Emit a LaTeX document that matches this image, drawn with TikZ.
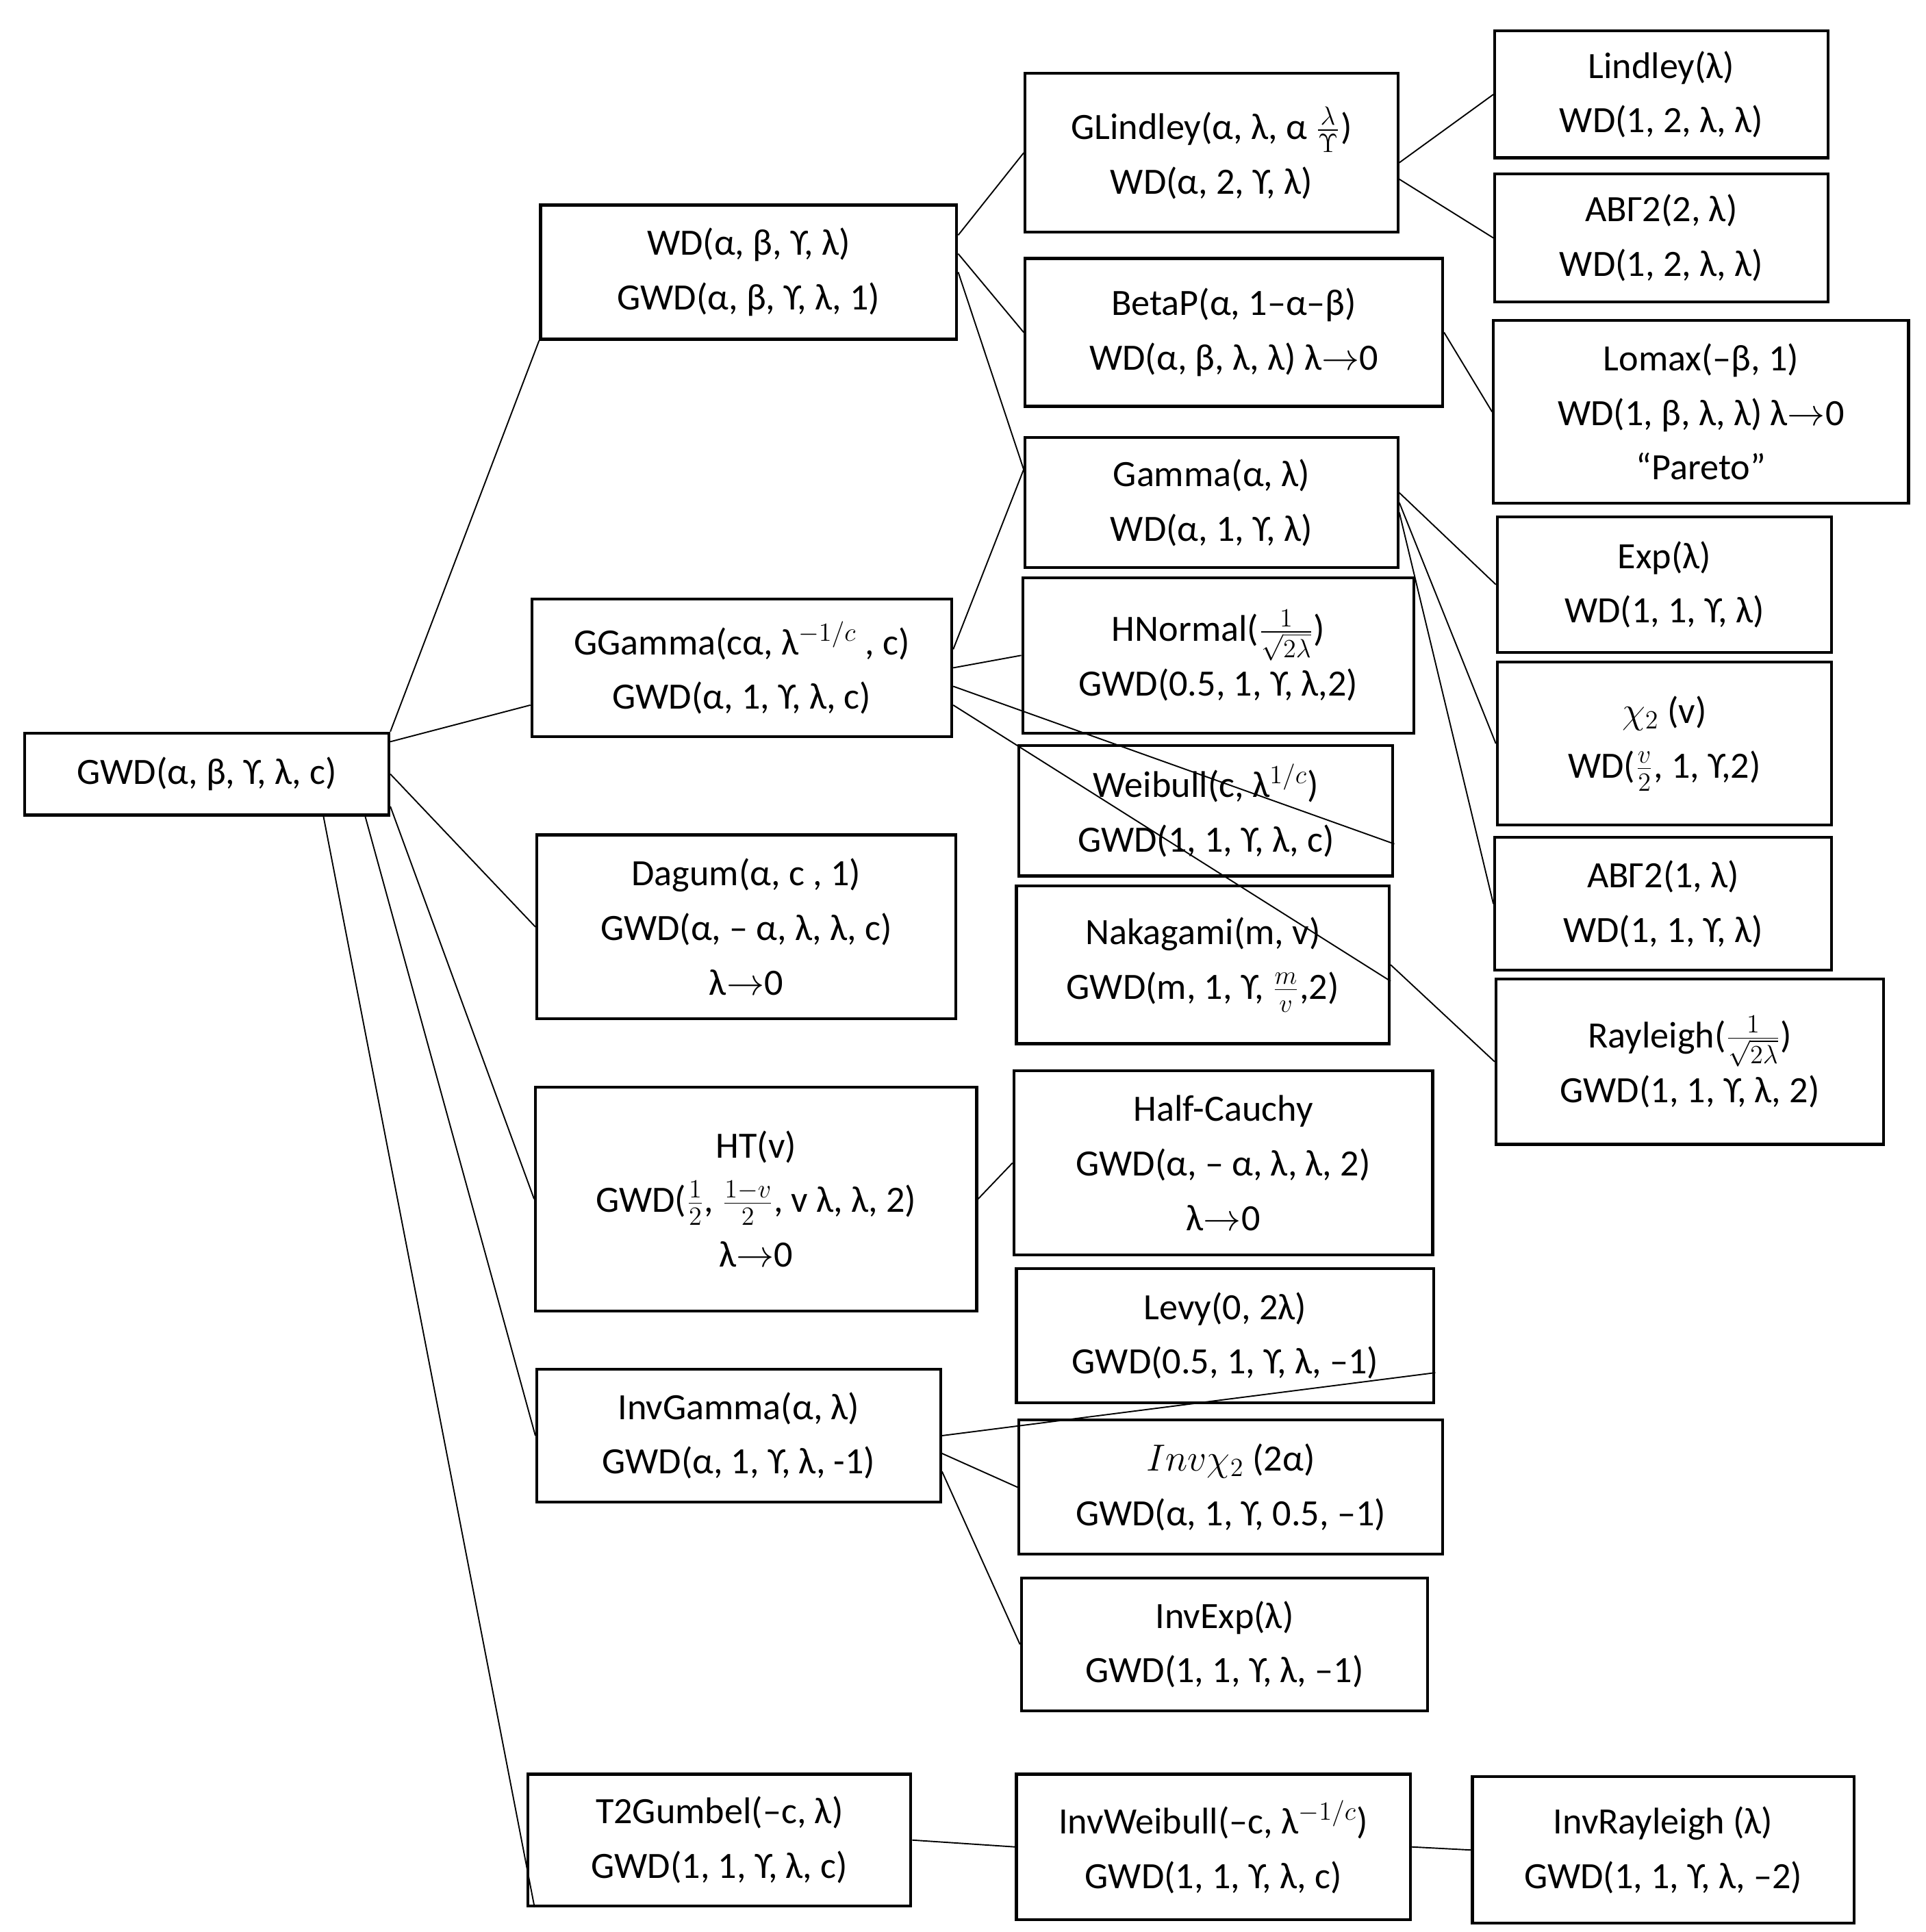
\documentclass[tikz,border=0pt]{standalone}
\usepackage{fontspec}
\setmainfont{Carlito}
\begin{document}
\begin{tikzpicture}[x=0.02cm,y=-0.02cm,
  every node/.style={font=\fontsize{17}{25}\selectfont},
  bx/.style={draw,line width=1.3pt,align=center,inner sep=0pt},
  ln/.style={line width=0.6pt}]
\useasboundingbox (0,0) rectangle (1550,1555);
\newcommand\bx[6]{%
  \pgfmathsetmacro\cx{(#2+#4)/2}\pgfmathsetmacro\cy{(#3+#5)/2}%
  \pgfmathsetmacro\ww{(#4-#2)*0.02}\pgfmathsetmacro\hh{(#5-#3)*0.02}%
  \node[bx,minimum width=\ww cm,minimum height=\hh cm] (#1) at (\cx,\cy) {#6};}
\bx{root}{20}{590}{313}{656}{GWD(α, β, ϒ, λ, c)}
\bx{wd}{435}{165}{770}{273}{WD(α, β, ϒ, λ)\\GWD(α, β, ϒ, λ, 1)}
\bx{gg}{428}{482}{766}{593}{GGamma(cα, λ$^{-1/c}$ , c)\\GWD(α, 1, ϒ, λ, c)}
\bx{dagum}{432}{672}{769}{820}{Dagum(α, c , 1)\\GWD(α, – α, λ, λ, c)\\λ$\rightarrow$0}
\bx{ht}{431}{875}{786}{1055}{HT(v)\\GWD($\frac{1}{2}$, $\frac{1-v}{2}$, v λ, λ, 2)\\λ$\rightarrow$0}
\bx{invg}{432}{1102}{757}{1209}{InvGamma(α, λ)\\GWD(α, 1, ϒ, λ, -1)}
\bx{t2g}{425}{1428}{733}{1534}{T2Gumbel(–c, λ)\\GWD(1, 1, ϒ, λ, c)}
\bx{glind}{825}{59}{1125}{187}{GLindley(α, λ, α $\frac{\lambda}{\Upsilon}$)\\WD(α, 2, ϒ, λ)}
\bx{betap}{825}{208}{1161}{327}{BetaP(α, 1–α–β)\\WD(α, β, λ, λ) λ$\rightarrow$0}
\bx{gamma}{825}{352}{1125}{457}{Gamma(α, λ)\\WD(α, 1, ϒ, λ)}
\bx{hnorm}{823}{465}{1138}{590}{HNormal($\frac{1}{\sqrt{2\lambda}}$)\\GWD(0.5, 1, ϒ, λ,2)}
\bx{weib}{820}{600}{1121}{705}{Weibull(c, λ$^{1/c}$)\\GWD(1, 1, ϒ, λ, c)}
\bx{naka}{818}{713}{1118}{840}{Nakagami(m, v)\\GWD(m, 1, ϒ, $\frac{m}{v}$,2)}
\bx{halfc}{816}{862}{1153}{1010}{Half-Cauchy\\GWD(α, – α, λ, λ, 2)\\λ$\rightarrow$0}
\bx{levy}{818}{1021}{1154}{1129}{Levy(0, 2λ)\\GWD(0.5, 1, ϒ, λ, –1)}
\bx{invchi}{820}{1143}{1161}{1251}{$Inv\chi_2$ (2α)\\GWD(α, 1, ϒ, 0.5, –1)}
\bx{invexp}{822}{1270}{1149}{1377}{InvExp(λ)\\GWD(1, 1, ϒ, λ, –1)}
\bx{invweib}{818}{1428}{1135}{1545}{InvWeibull(–c, λ$^{-1/c}$)\\GWD(1, 1, ϒ, λ, c)}
\bx{lind}{1203}{25}{1471}{127}{Lindley(λ)\\WD(1, 2, λ, λ)}
\bx{abg22}{1203}{140}{1471}{243}{ABΓ2(2, λ)\\WD(1, 2, λ, λ)}
\bx{lomax}{1202}{258}{1536}{405}{Lomax(–β, 1)\\WD(1, β, λ, λ) λ$\rightarrow$0\\“Pareto”}
\bx{exp}{1205}{416}{1474}{525}{Exp(λ)\\WD(1, 1, ϒ, λ)}
\bx{chi}{1205}{533}{1474}{664}{$\chi_2$ (v)\\WD($\frac{v}{2}$, 1, ϒ,2)}
\bx{abg21}{1203}{674}{1474}{781}{ABΓ2(1, λ)\\WD(1, 1, ϒ, λ)}
\bx{rayl}{1204}{788}{1516}{921}{Rayleigh($\frac{1}{\sqrt{2\lambda}}$)\\GWD(1, 1, ϒ, λ, 2)}
\bx{invray}{1185}{1430}{1492}{1548}{InvRayleigh (λ)\\GWD(1, 1, ϒ, λ, –2)}
% connectors
\draw[ln] (root.north east) -- (wd.south west);
\draw[ln] (root.10) -- (gg.190);
\draw[ln] (root.east) -- (dagum.west);
\draw[ln] (root.-10) -- (ht.west);
\draw[ln] (root.-15) -- (invg.west);
\draw[ln] (root.-20) -- (t2g.200);
\draw[ln] (wd.10) -- (glind.west);
\draw[ln] (wd.5) -- (betap.west);
\draw[ln] (wd.0) -- (gamma.170);
\draw[ln] (gg.5) -- (gamma.170);
\draw[ln] (gg.0) -- (hnorm.west);
\draw[ln] (gg.-5) -- (weib.-10);
\draw[ln] (gg.-10) -- (naka.-5);
\draw[ln] (ht.east) -- (halfc.180);
\draw[ln] (invg.0) -- (levy.-10);
\draw[ln] (invg.-5) -- (invchi.west);
\draw[ln] (invg.-10) -- (invexp.west);
\draw[ln] (t2g.east) -- (invweib.west);
\draw[ln] (invweib.east) -- (invray.west);
\draw[ln] (glind.-3) -- (lind.west);
\draw[ln] (glind.-8) -- (abg22.west);
\draw[ln] (betap.east) -- (lomax.west);
\draw[ln] (gamma.3) -- (exp.west);
\draw[ln] (gamma.0) -- (chi.west);
\draw[ln] (gamma.-3) -- (abg21.west);
\draw[ln] (naka.east) -- (rayl.west);
\end{tikzpicture}
\end{document}
